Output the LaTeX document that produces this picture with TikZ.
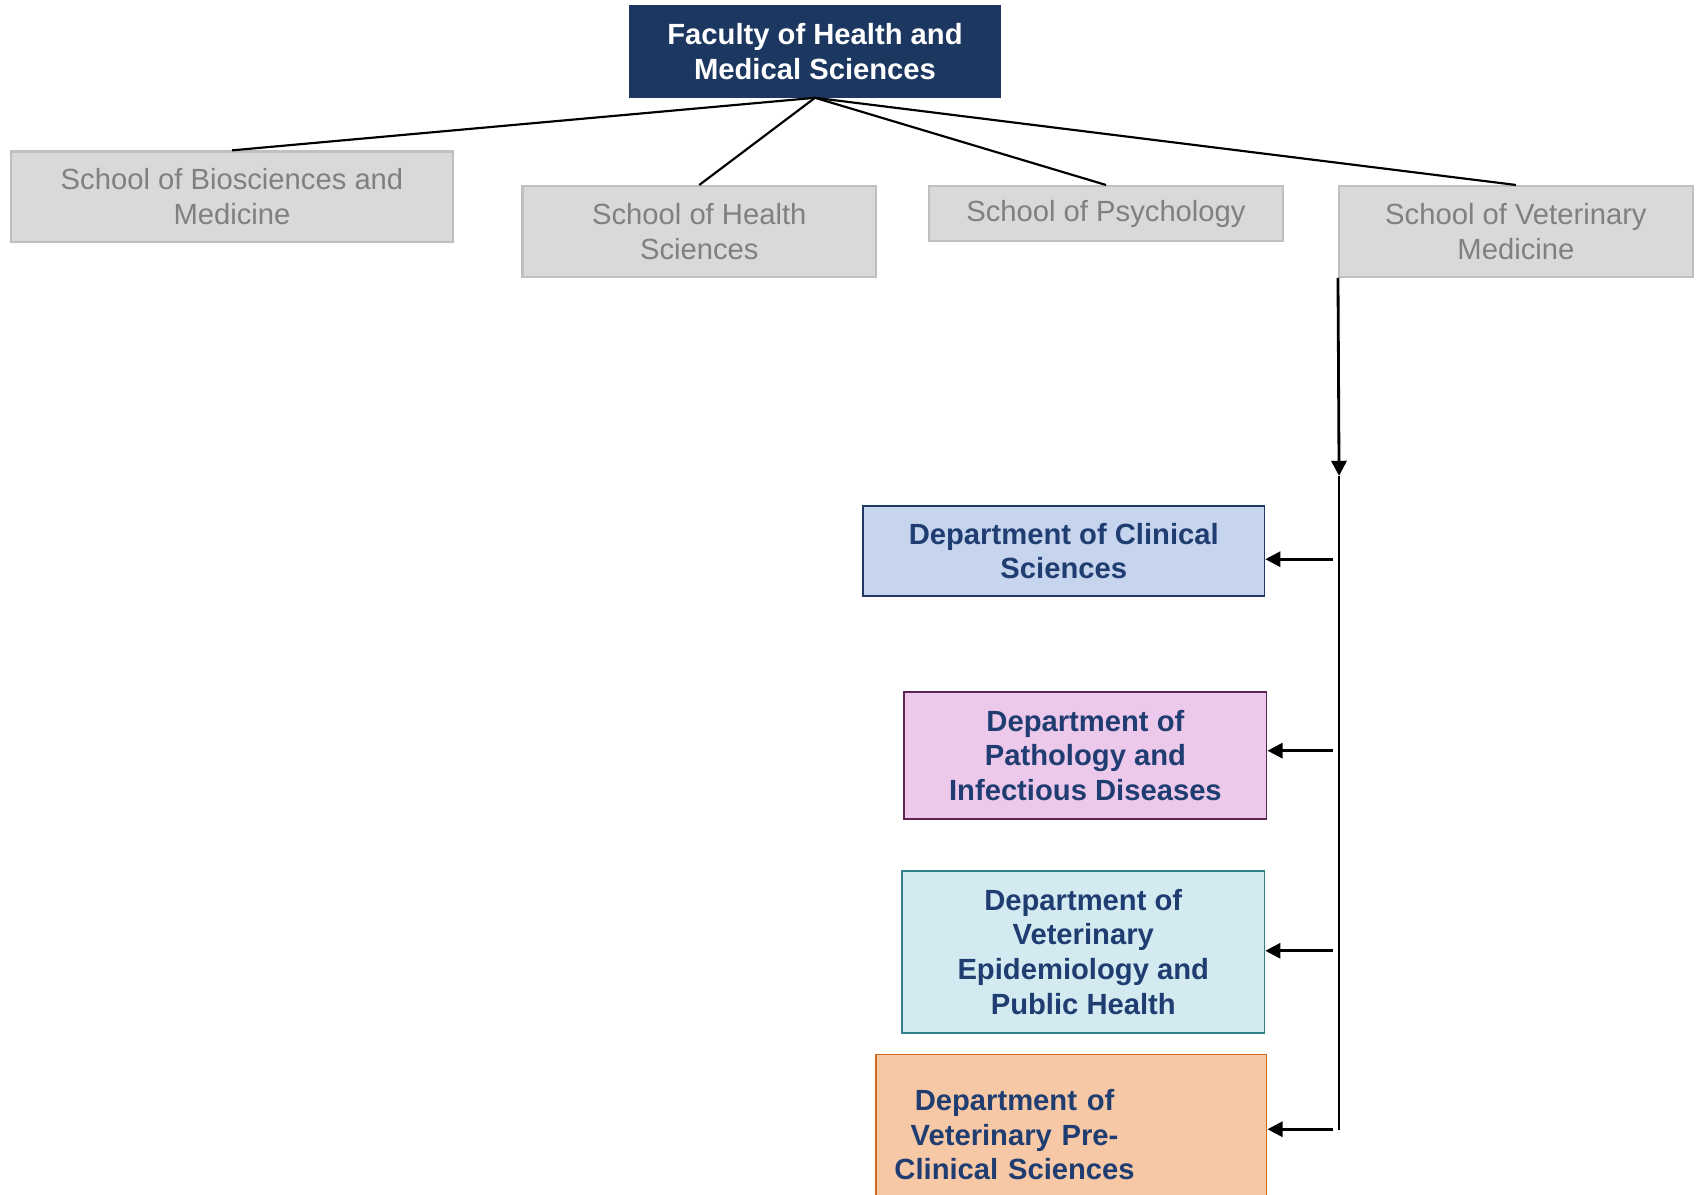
\documentclass[tikz,border=0pt]{standalone}
\usepackage{fontspec}
\setmainfont{Liberation Sans}
\usepackage{xcolor}
\usepackage{tikz}
\usetikzlibrary{arrows.meta}
\usetikzlibrary{positioning}
\definecolor{faculty blue}{HTML}{1C3760}
\definecolor{school fill}{HTML}{D9D9D9}
\definecolor{school line}{HTML}{BFBFBF}
\definecolor{school text}{HTML}{808080}
\definecolor{dept text}{HTML}{203D72}
\definecolor{clinical fill}{HTML}{C6D4EE}
\definecolor{clinical line}{HTML}{1F3864}
\definecolor{pathology fill}{HTML}{ECC8EA}
\definecolor{pathology line}{HTML}{5C2556}
\definecolor{epi fill}{HTML}{D2EAF0}
\definecolor{epi line}{HTML}{31808A}
\definecolor{preclin fill}{HTML}{F6C8A5}
\definecolor{preclin line}{HTML}{D06A22}
\tikzset{
faculty box/.style = { rectangle, draw = faculty blue, fill = faculty blue, text = white, font = \fontsize{13.5}{16}\selectfont\bfseries, align = center, inner sep = 0pt },
school box/.style = { rectangle, draw = school line, line width = 1pt, fill = school fill, text = school text, font = \fontsize{13.5}{16}\selectfont, align = center, inner sep = 0pt, minimum width = 163.5pt, minimum height = 42pt },
dept box/.style args = {#1, #2}{ rectangle, draw = #2, line width = 0.8pt, fill = #1, text = dept text, font = \fontsize{13.5}{16}\selectfont\bfseries, align = center, inner sep = 0pt },
tree line/.style = { draw = black, line width = 1pt },
feed line/.style = { draw = black, line width = 1.3pt },
feed arrow/.style = { feed line, -{Triangle[length = 7pt, width = 7pt]} },
}
\begin{document}
\begin{tikzpicture}[x = 0.5pt, y = -0.5pt]
    \useasboundingbox (0, 0) rectangle (1568, 1104);
    % faculty and schools
    \node[faculty box, minimum width = 171.5pt, minimum height = 42.5pt] (faculty) at (753.5, 47.5) {Faculty of Health and\\Medical Sciences};
    \node[school box, minimum width = 204.5pt] (bio) at (214.5, 182) {School of Biosciences and\\Medicine};
    \node[school box] (health) at (646.5, 214) {School of Health\\Sciences};
    \node[school box, minimum height = 25.5pt] (psych) at (1022.5, 197.5) {School of Psychology};
    \node[school box] (vet) at (1401.5, 214) {School of Veterinary\\Medicine};
    \foreach \s in {bio, health, psych, vet}
        \draw[tree line] (faculty.south) -- (\s.north);
    % departments
    \node[dept box = {clinical fill, clinical line}, minimum width = 185.5pt, minimum height = 41.5pt] (clinical) at (983.5, 509.5) {Department of Clinical\\Sciences};
    \node[dept box = {pathology fill, pathology line}, minimum width = 167.5pt, minimum height = 58.5pt] (pathology) at (1003.5, 698.5) {Department of\\Pathology and\\Infectious Diseases};
    \node[dept box = {epi fill, epi line}, minimum width = 167.5pt, minimum height = 75pt] (epi) at (1001.5, 880) {Department of\\Veterinary\\Epidemiology and\\Public Health};
    \node[dept box = {preclin fill, preclin line}, minimum width = 180.5pt, minimum height = 74pt, text width = 180.5pt, align = left] (preclin) at (990.5, 1049) {\parbox{128pt}{\centering Department of\\Veterinary Pre-\\Clinical Sciences}};
    % feed from the veterinary school
    \coordinate (trunk mid) at (1238, 440);
    \coordinate (trunk end) at (1238, 1045);
    \draw[feed arrow] (vet.south west) -- (trunk mid);
    \draw[feed line] (trunk mid) -- (trunk end);
    \coordinate (tap clinical) at (1232, 517);
    \coordinate (tap pathology) at (1232, 694);
    \coordinate (tap epi) at (1232, 879);
    \coordinate (tap preclin) at (1232, 1044);
    \draw[feed arrow] (tap clinical) -- (clinical.east |- tap clinical);
    \draw[feed arrow] (tap pathology) -- (pathology.east |- tap pathology);
    \draw[feed arrow] (tap epi) -- (epi.east |- tap epi);
    \draw[feed arrow] (tap preclin) -- (preclin.east |- tap preclin);
\end{tikzpicture}
\end{document}
